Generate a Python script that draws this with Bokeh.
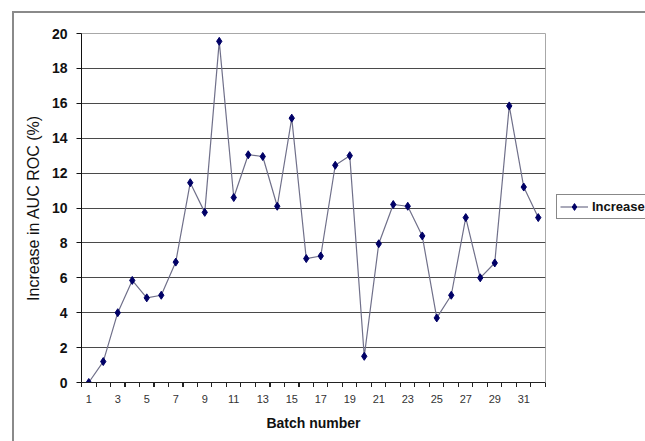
from bokeh.plotting import figure
from bokeh.models import (ColumnDataSource, FixedTicker, Range1d, Legend,
                          LegendItem)
from bokeh.embed import file_html
from bokeh.resources import INLINE

# Batch numbers and the increase in AUC ROC (%) per batch
batches = list(range(1, 33))
increase = [0.0, 1.2, 4.0, 5.85, 4.85, 5.0, 6.9, 11.45, 9.75, 19.55,
            10.6, 13.05, 12.95, 10.1, 15.15, 7.1, 7.25, 12.45, 13.0, 1.5,
            7.95, 10.2, 10.1, 8.4, 3.7, 5.0, 9.45, 6.0, 6.85, 15.85,
            11.2, 9.45]
y_ticks = list(range(0, 21, 2))
x_tick_labels = list(range(1, 33, 2))
series_name = "Increase"

FONT = "Liberation Sans"
BORDER = "#8a8a8a"

# Plot-area geometry in pixels
FRAME_LEFT, FRAME_TOP, FRAME_W, FRAME_H = 81, 33, 464, 349

src = ColumnDataSource(data=dict(batch=batches, increase=increase))

n = len(batches)
p = figure(frame_width=FRAME_W, frame_height=FRAME_H, output_backend="svg",
           toolbar_location=None,
           x_range=Range1d(0.5, n + 0.5), y_range=Range1d(0, 20),
           min_border_left=FRAME_LEFT, min_border_right=100,
           min_border_top=FRAME_TOP, min_border_bottom=59,
           background_fill_color="white", border_fill_color=None)

# Chart area border (grey lines along the top and left, running off the page)
# and the category-edge tick marks under the x axis, one per batch boundary
step = FRAME_W / n
tick_y = FRAME_TOP + FRAME_H + 1
p.styles = {
    "background": ", ".join([
        f"repeating-linear-gradient(to right, #222 0px, #222 1px, transparent 1px, "
        f"transparent {step}px) {FRAME_LEFT}px {tick_y}px / {FRAME_W + 2}px 4px no-repeat",
        f"linear-gradient({BORDER},{BORDER}) 12px 11px / 2px 100% no-repeat",
        f"linear-gradient({BORDER},{BORDER}) 12px 11px / 100% 2px no-repeat",
        "white",
    ]),
}

# Plot area border (light grey)
p.outline_line_color = "#a8a8a8"
p.outline_line_width = 1

# Horizontal gridlines
p.xgrid.visible = False
p.ygrid.ticker = FixedTicker(ticks=y_ticks[1:-1])
p.ygrid.grid_line_color = "#4a4a4a"
p.ygrid.grid_line_width = 1

# X axis: labels at odd batch numbers
p.xaxis.ticker = FixedTicker(ticks=x_tick_labels)
p.xaxis.axis_line_color = "#222222"
p.xaxis.major_tick_line_color = None
p.xaxis.minor_tick_line_color = None
p.xaxis.major_tick_out = 4
p.xaxis.major_tick_in = 0
p.xaxis.major_label_standoff = 8
p.xaxis.major_label_text_font = FONT
p.xaxis.major_label_text_font_size = "11px"
p.xaxis.major_label_text_color = "#333333"
p.xaxis.axis_label = "Batch number"
p.xaxis.axis_label_text_font = FONT
p.xaxis.axis_label_text_font_size = "14px"
p.xaxis.axis_label_text_font_style = "bold"
p.xaxis.axis_label_text_color = "#111111"
p.xaxis.axis_label_standoff = 9

# Y axis
p.yaxis.ticker = FixedTicker(ticks=y_ticks)
p.yaxis.major_tick_out = 5
p.yaxis.major_tick_in = 0
p.yaxis.minor_tick_line_color = None
p.yaxis.axis_line_color = "#111111"
p.yaxis.major_tick_line_color = "#111111"
p.yaxis.major_label_standoff = 9
p.yaxis.major_label_text_font = FONT
p.yaxis.major_label_text_font_size = "14px"
p.yaxis.major_label_text_font_style = "bold"
p.yaxis.major_label_text_color = "#111111"
p.yaxis.axis_label = "Increase in AUC ROC (%)"
p.yaxis.axis_label_text_font = FONT
p.yaxis.axis_label_text_font_size = "16px"
p.yaxis.axis_label_text_font_style = "normal"
p.yaxis.axis_label_text_color = "#111111"
p.yaxis.axis_label_standoff = 7

# Series: thin line with navy diamond markers
line_r = p.line("batch", "increase", source=src, line_color="#70708a",
                line_width=1.2)
mark_r = p.scatter("batch", "increase", source=src, marker="diamond", size=8,
                   fill_color="#000066", line_color="#000066")

legend = Legend(items=[LegendItem(label=series_name, renderers=[line_r, mark_r])],
                location=(11, 163), orientation="vertical",
                border_line_color="#111111", border_line_width=1,
                background_fill_color="white", background_fill_alpha=1,
                padding=3, margin=0, spacing=0,
                glyph_width=28, glyph_height=17, label_height=17,
                label_standoff=4,
                label_text_font=FONT, label_text_font_size="13px",
                label_text_font_style="bold", label_text_color="#111111")
p.add_layout(legend, "right")

open("out.html", "w").write(file_html(p, INLINE))
